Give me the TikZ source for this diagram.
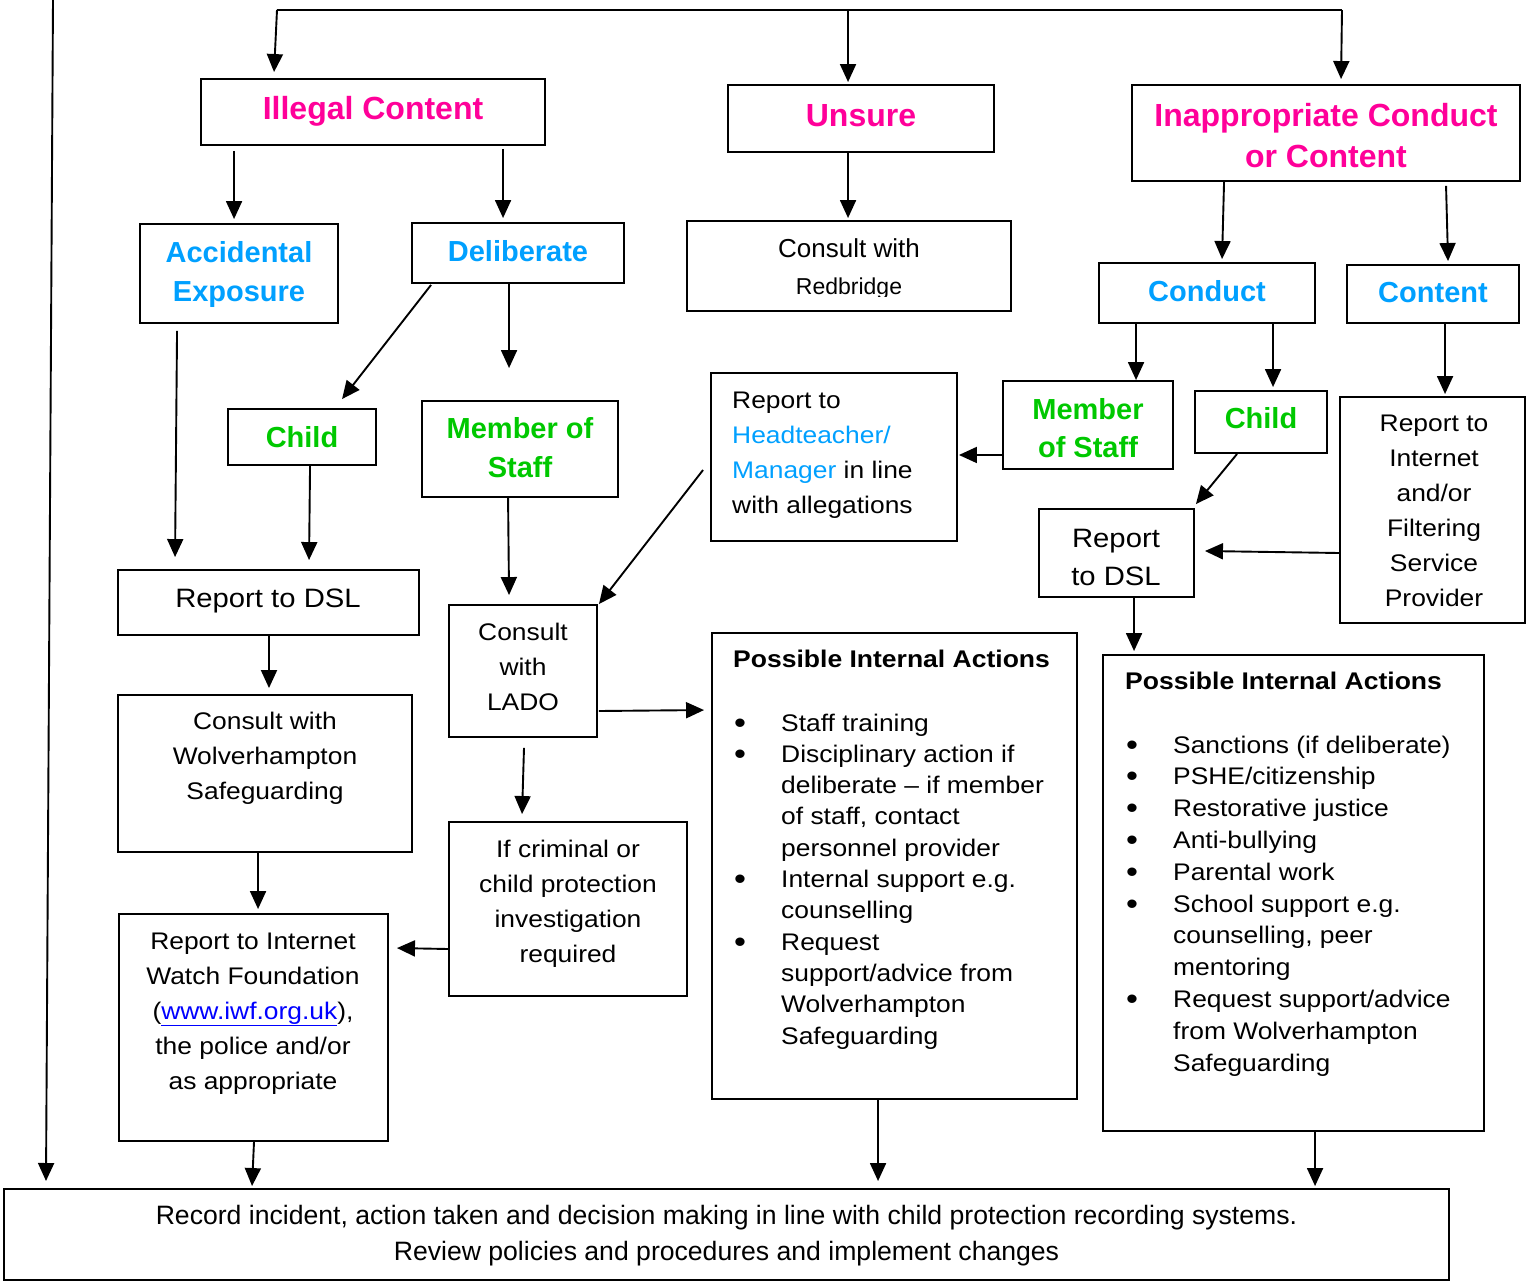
\documentclass[tikz,border=0pt]{standalone}
\usepackage{fontspec}
\setmainfont{Liberation Sans}
\newfontfamily\bodyf[FakeStretch=1.1]{Liberation Sans}
\usetikzlibrary{arrows.meta,calc}
\definecolor{mag}{RGB}{255,0,153}
\definecolor{hblue}{RGB}{0,160,255}
\definecolor{hgreen}{RGB}{0,200,0}
\definecolor{lnk}{RGB}{0,0,255}
\newcommand\mlines[2][c]{\begin{tabular}[t]{@{}#1@{}}#2\end{tabular}}
\newcommand\bul{\makebox[48pt][l]{\hspace{1pt}\raisebox{-2pt}{\fontsize{31}{31}\selectfont\textbullet}}}
\newcommand\ind{\hspace*{48pt}}
\tikzset{
  box/.style={draw, line width=1.9pt, inner sep=0pt},
  arr/.style={line width=1.9pt, -{Triangle[length=18pt,width=16pt]}},
  conn/.style={line width=1.9pt},
  txt/.style={anchor=base, inner sep=0pt},
  hmag/.style={txt, text=mag, font=\fontsize{32}{41}\selectfont\bfseries},
  hblu/.style={txt, text=hblue, font=\fontsize{29}{39}\selectfont\bfseries},
  hgrn/.style={txt, text=hgreen, font=\fontsize{29}{39}\selectfont\bfseries},
  body/.style={txt, font=\bodyf\fontsize{24}{35}\selectfont},
}
\begin{document}
\begin{tikzpicture}[x=1pt,y=-1pt]
\useasboundingbox (0,0) rectangle (1527,1282);
% boxes
\node[box, minimum width=344pt, minimum height=66pt] (ill) at (373,112) {};
\node[box, minimum width=266pt, minimum height=67pt] (uns) at (861,118.5) {};
\node[box, minimum width=388pt, minimum height=96pt] (inap) at (1326,133) {};
\node[box, minimum width=198pt, minimum height=99pt] (acc) at (239,273.5) {};
\node[box, minimum width=212pt, minimum height=60pt] (del) at (518,253) {};
\node[box, minimum width=324pt, minimum height=90pt] (red) at (849,266) {};
\node[box, minimum width=216pt, minimum height=60pt] (cond) at (1207,293) {};
\node[box, minimum width=172pt, minimum height=58pt] (cont) at (1433,294) {};
\node[box, minimum width=148pt, minimum height=56pt] (chL) at (302,437) {};
\node[box, minimum width=196pt, minimum height=96pt] (msL) at (520,449) {};
\node[box, minimum width=246pt, minimum height=168pt] (head) at (834,457) {};
\node[box, minimum width=170pt, minimum height=88pt] (msR) at (1088,425) {};
\node[box, minimum width=132pt, minimum height=62pt] (chR) at (1261,422) {};
\node[box, minimum width=185pt, minimum height=226pt] (isp) at (1432.5,510) {};
\node[box, minimum width=155pt, minimum height=88pt] (dslR) at (1116.5,553) {};
\node[box, minimum width=301pt, minimum height=65pt] (dslL) at (268.5,602.5) {};
\node[box, minimum width=148pt, minimum height=132pt] (lado) at (523,671) {};
\node[box, minimum width=365pt, minimum height=466pt] (piaM) at (894.5,866) {};
\node[box, minimum width=381pt, minimum height=476pt] (piaR) at (1293.5,893) {};
\node[box, minimum width=294pt, minimum height=157pt] (wolv) at (265,773.5) {};
\node[box, minimum width=238pt, minimum height=174pt] (crim) at (568,909) {};
\node[box, minimum width=269pt, minimum height=227pt] (iwf) at (253.5,1027.5) {};
\node[box, minimum width=1445pt, minimum height=91pt] (bot) at (726.5,1234.5) {};
% texts
\node[hmag] (t-ill) at (373,119) {Illegal Content};
\node[hmag] (t-uns) at (861,126) {Unsure};
\node[hmag] (t-inap) at (1326,126) {\mlines{Inappropriate Conduct\\or Content}};
\node[hblu] (t-acc) at (239,262) {\mlines{Accidental\\Exposure}};
\node[hblu] (t-del) at (518,261) {Deliberate};
\node[hblu] (t-cond) at (1207,301) {Conduct};
\node[hblu] (t-cont) at (1433,302) {Content};
\node[hgrn] (t-chL) at (302,447) {Child};
\node[hgrn] (t-msL) at (520,438) {\mlines{Member of\\Staff}};
\node[hgrn, font=\fontsize{29}{38}\selectfont\bfseries] (t-msR) at (1088,419) {\mlines{Member\\of Staff}};
\node[hgrn] (t-chR) at (1261,428) {Child};
\node[txt, font=\fontsize{26}{30}\selectfont] (t-red1) at (849,257) {Consult with};
\begin{scope}
\clip (687,221) rectangle (1011,296);
\node[txt, font=\fontsize{23}{28}\selectfont] (t-red2) at (849,294) {Redbridge};
\end{scope}
\node[body, anchor=base west, font=\bodyf\fontsize{24}{35.3}\selectfont] (t-head) at (732,408)
  {\mlines[l]{Report to\\\textcolor{hblue}{Headteacher/}\\\textcolor{hblue}{Manager} in line\\with allegations}};
\node[body] (t-isp) at (1434,431) {\mlines{Report to\\Internet\\and/or\\Filtering\\Service\\Provider}};
\node[body, font=\bodyf\fontsize{26.6}{38}\selectfont] (t-dslR) at (1116,547) {\mlines{Report\\to DSL}};
\node[body, font=\bodyf\fontsize{26.6}{38}\selectfont] (t-dslL) at (268,607) {Report to DSL};
\node[body] (t-lado) at (523,640) {\mlines{Consult\\with\\LADO}};
\node[body] (t-wolv) at (265,729) {\mlines{Consult with\\Wolverhampton\\Safeguarding}};
\node[body] (t-crim) at (568,857) {\mlines{If criminal or\\child protection\\investigation\\required}};
\node[body] (t-iwf) at (253,949) {\mlines{Report to Internet\\Watch Foundation\\(\textcolor{lnk}{\underline{www.iwf.org.uk}}),\\the police and/or\\as appropriate}};
\node[txt, font=\fontsize{26.6}{36}\selectfont] (t-bot) at (726.5,1224) {\mlines{Record incident, action taken and decision making in line with child protection recording systems.\\Review policies and procedures and implement changes}};
\node[body, anchor=base west, font=\bodyf\fontsize{24}{31.3}\selectfont] (t-piaM) at (733,667)
  {\mlines[l]{\fontsize{24.1}{31.3}\selectfont\bfseries Possible Internal Actions\\[32.7pt]
  \bul Staff training\\
  \bul Disciplinary action if\\
  \ind deliberate – if member\\
  \ind of staff, contact\\
  \ind personnel provider\\
  \bul Internal support e.g.\\
  \ind counselling\\
  \bul Request\\
  \ind support/advice from\\
  \ind Wolverhampton\\
  \ind Safeguarding}};
\node[body, anchor=base west, font=\bodyf\fontsize{24}{31.8}\selectfont] (t-piaR) at (1125,689)
  {\mlines[l]{\fontsize{24.1}{31.8}\selectfont\bfseries Possible Internal Actions\\[32.2pt]
  \bul Sanctions (if deliberate)\\
  \bul PSHE/citizenship\\
  \bul Restorative justice\\
  \bul Anti-bullying\\
  \bul Parental work\\
  \bul School support e.g.\\
  \ind counselling, peer\\
  \ind mentoring\\
  \bul Request support/advice\\
  \ind from Wolverhampton\\
  \ind Safeguarding}};
% connectors
\coordinate (ltop) at (53,0);
\coordinate (lbot) at (46,1181);
\draw[arr] (ltop) -- (lbot);
\coordinate (tl) at (277,10);
\coordinate (tm) at (848,10);
\coordinate (tr) at (1342,10);
\draw[conn] (tl) -- (tr);
\draw[arr] (tl) -- ($(ill.north west)+(74,-6)$);
\draw[arr] (tm) -- ($(uns.north west)+(121,-2)$);
\draw[arr] (tr) -- ($(inap.north west)+(210,-5)$);
\draw[arr] ($(ill.south west)+(34,5)$) -- ($(acc.north west)+(95,-4)$);
\draw[arr] ($(ill.south west)+(303,3)$) -- ($(del.north west)+(92,-4)$);
\draw[arr] ($(uns.south west)+(121,0)$) -- ($(red.north west)+(162,-2)$);
\draw[arr] ($(inap.south west)+(93,0)$) -- ($(cond.north west)+(124,-3)$);
\draw[arr] ($(inap.south west)+(315,4)$) -- ($(cont.north west)+(102,-3)$);
\draw[arr] ($(acc.south west)+(38,7)$) -- ($(dslL.north west)+(58,-12)$);
\draw[arr] ($(del.south west)+(20,1)$) -- ($(chL.north west)+(115,-9)$);
\draw[arr] ($(del.south west)+(98,0)$) -- ($(msL.north west)+(88,-32)$);
\draw[arr] ($(chL.south west)+(83,0)$) -- ($(dslL.north west)+(192,-9)$);
\draw[arr] ($(msL.south west)+(87,0)$) -- ($(lado.north west)+(61,-9)$);
\draw[arr] ($(head.west)+(-7,13)$) -- ($(lado.north east)+(1,0)$);
\draw[arr] ($(msR.south west)+(0,-15)$) -- ($(head.east)+(1,-2)$);
\draw[arr] ($(cond.south west)+(38,0)$) -- ($(msR.north west)+(134,0)$);
\draw[arr] ($(cond.south west)+(175,0)$) -- ($(chR.north west)+(79,-3)$);
\draw[arr] ($(cont.south west)+(99,0)$) -- ($(isp.north west)+(106,-2)$);
\draw[arr] ($(chR.south west)+(43,0)$) -- ($(dslR.north east)+(1,-4)$);
\draw[arr] ($(isp.west)+(0,43)$) -- ($(dslR.east)+(10,-2)$);
\draw[arr] ($(dslR.south west)+(96,0)$) -- ($(piaR.north west)+(32,-3)$);
\draw[arr] ($(dslL.south)+(0.5,0)$) -- ($(wolv.north)+(4,-6)$);
\draw[arr] ($(lado.east)+(1,40)$) -- ($(piaM.north west)+(-7,78)$);
\draw[arr] ($(lado.south)+(1,10)$) -- ($(crim.north west)+(74,-7)$);
\draw[arr] ($(crim.west)+(0,40)$) -- ($(iwf.north east)+(8,35)$);
\draw[arr] ($(wolv.south west)+(141,0)$) -- ($(iwf.north west)+(140,-4)$);
\draw[arr] ($(iwf.south)+(0.5,0)$) -- ($(bot.north west)+(249,-2)$);
\draw[arr] ($(piaM.south west)+(167,0)$) -- ($(bot.north west)+(875,-7)$);
\draw[arr] ($(piaR.south west)+(213,0)$) -- ($(bot.north west)+(1312,-2)$);
\end{tikzpicture}
\end{document}
